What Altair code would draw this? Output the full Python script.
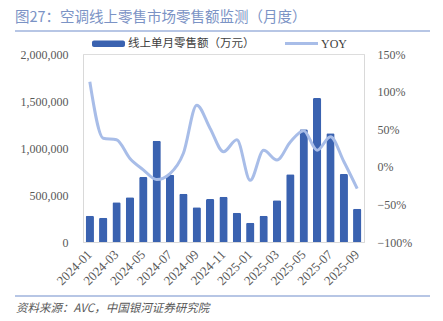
import altair as alt
import pandas as pd

months = ["2024-01","2024-02","2024-03","2024-04","2024-05","2024-06","2024-07","2024-08",
          "2024-09","2024-10","2024-11","2024-12","2025-01","2025-02","2025-03","2025-04",
          "2025-05","2025-06","2025-07","2025-08","2025-09"]
sales = [280000, 258000, 422000, 475000, 691000, 1078000, 716000, 514000,
         369000, 457000, 482000, 312000, 205000, 280000, 443000, 720000,
         1199000, 1532000, 1156000, 723000, 354000]
yoy = [1.13, 0.38, 0.36, 0.11, -0.04, -0.17, -0.09, 0.18,
       0.82, 0.51, 0.20, 0.36, -0.18, 0.22, 0.09, 0.33,
       0.48, 0.22, 0.40, 0.07, -0.29]
tick_labels = months[::2]

df = pd.DataFrame({"month": months, "sales": sales, "yoy": yoy})

W, H = 281, 188
BAR = "#3a62b0"
LINE = "#a8bde8"
TITLE_C = "#7b93c5"
GRAY = "#595959"
FONT = "Liberation Serif"
CJK = "Noto Sans CJK SC"

xenc = alt.X("month:N", sort=months, title=None,
             scale=alt.Scale(paddingInner=0.38, paddingOuter=0.2),
             axis=alt.Axis(values=tick_labels, labelAngle=-45, labelAlign="right",
                           labelBaseline="middle", labelFont=FONT, labelFontSize=13,
                           labelColor=GRAY, ticks=False, domainColor="#d9d9d9",
                           labelPadding=10))

bars = alt.Chart(df).mark_bar(color=BAR, cornerRadiusTopLeft=1.5, cornerRadiusTopRight=1.5).encode(
    x=xenc,
    y=alt.Y("sales:Q", title=None,
            scale=alt.Scale(domain=[0, 2000000], nice=False),
            axis=alt.Axis(values=[0, 500000, 1000000, 1500000, 2000000],
                          labelExpr="format(datum.value, ',')",
                          grid=False, ticks=False, domainColor="#d9d9d9",
                          labelFont=FONT, labelFontSize=12, labelColor=GRAY,
                          labelPadding=15)),
)

line = alt.Chart(df).mark_line(color=LINE, strokeWidth=3, interpolate="monotone").encode(
    x=alt.X("month:N", sort=months),
    y=alt.Y("yoy:Q", title=None,
            scale=alt.Scale(domain=[-1.0, 1.5], nice=False),
            axis=alt.Axis(orient="right", values=[-1.0, -0.5, 0, 0.5, 1.0, 1.5],
                          labelExpr="format(datum.value, '.0%')",
                          grid=False, ticks=False, domainColor="#d9d9d9",
                          labelFont=FONT, labelFontSize=12, labelColor=GRAY,
                          labelPadding=13)),
)

one = pd.DataFrame({"a": [0]})

def txt(s, x, y, size, color, font, style="normal", align="left"):
    return alt.Chart(one).mark_text(text=s, align=align, baseline="middle", fontSize=size,
                                    color=color, font=font, fontStyle=style).encode(
        x=alt.value(x), y=alt.value(y))

def rule(x1, x2, y, color, w):
    return alt.Chart(one).mark_rule(color=color, strokeWidth=w).encode(
        x=alt.value(x1), x2=alt.value(x2), y=alt.value(y))

ox, oy = 83, 54
deco = [
    txt("图27：空调线上零售市场零售额监测（月度）", 15 - ox, 18 - oy, 14.5, TITLE_C, CJK),
    rule(15 - ox, 430 - ox, 31 - oy, "#9fb3dc", 1.5),
    alt.Chart(one).mark_rect(color=BAR, cornerRadius=2).encode(
        x=alt.value(92 - ox), x2=alt.value(125 - ox), y=alt.value(40.5 - oy), y2=alt.value(47 - oy)),
    txt("线上单月零售额（万元）", 128 - ox, 43.5 - oy, 11.5, "#404040", CJK),
    rule(285 - ox, 318 - ox, 43.5 - oy, LINE, 3),
    txt("YOY", 321 - ox, 43.5 - oy, 12, "#404040", FONT),
    rule(15 - ox, 430 - ox, 296 - oy, "#9fb3dc", 1.5),
    txt("资料来源：AVC，中国银河证券研究院", 16 - ox, 309 - oy, 11.5, GRAY, CJK, style="italic"),
]

chart = alt.layer(bars, line).resolve_scale(y="independent")
chart = alt.layer(chart, *deco).properties(
    width=W, height=H,
    autosize=alt.AutoSizeParams(type="none"),
    padding={"left": ox, "top": oy, "right": 443 - ox - W, "bottom": 321 - oy - H},
).configure_view(stroke=None).configure(background="white")

chart.save("out.html", embed_options={"renderer": "svg", "actions": False})
